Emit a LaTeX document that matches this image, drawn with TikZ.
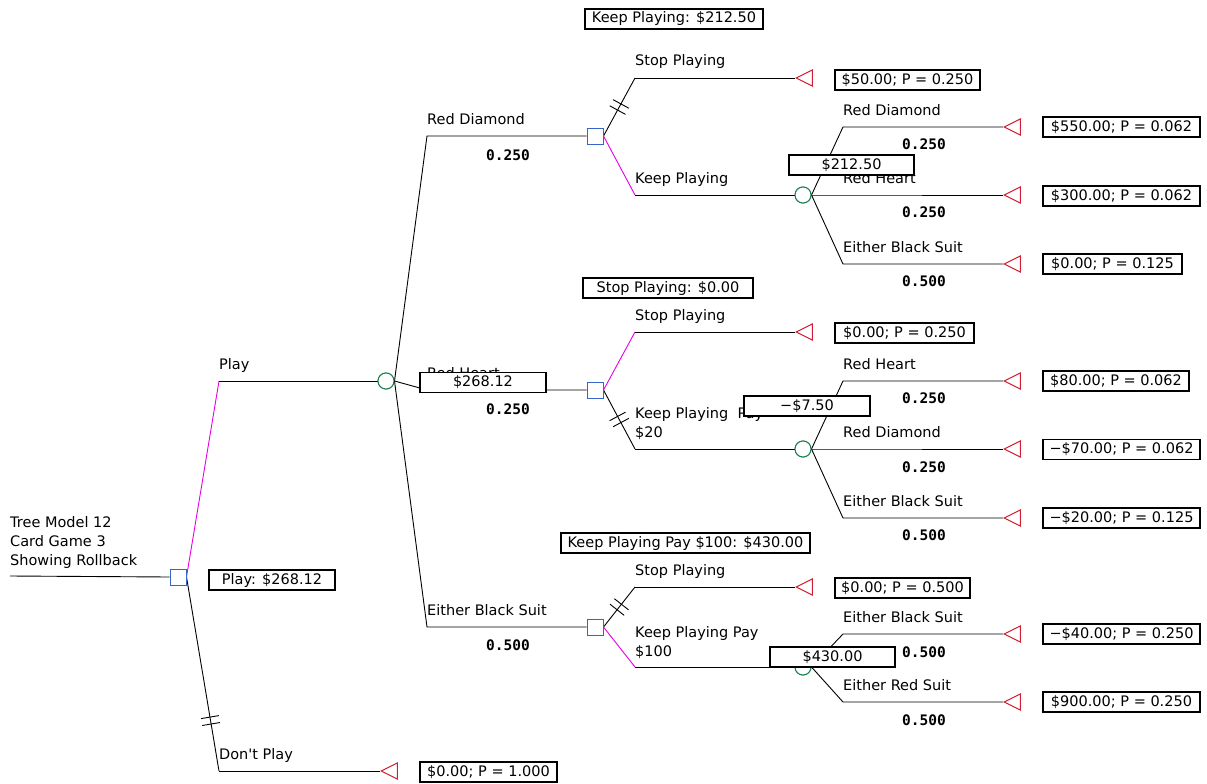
\documentclass[tikz,border=0pt]{standalone}
\usepackage{fontspec}
\setmainfont{DejaVu Sans}[Ligatures=TeXOff]
\newfontfamily\probfont{DejaVu Sans Mono}
\usetikzlibrary{shapes.geometric,decorations.markings}
\definecolor{decblue}{RGB}{55,100,200}
\definecolor{chgreen}{RGB}{30,130,80}
\definecolor{termred}{RGB}{210,30,50}
\definecolor{optmag}{RGB}{230,0,230}
\tikzset{
  dec/.style={rectangle,draw=decblue,fill=white,line width=1pt,minimum size=16pt,inner sep=0pt},
  chn/.style={circle,draw=chgreen,fill=white,line width=1pt,minimum size=16pt,inner sep=0pt},
  term/.style={isosceles triangle,isosceles triangle stretches,shape border rotate=180,draw=termred,line width=1pt,minimum width=16pt,minimum height=16pt,inner sep=0pt,anchor=apex},
  br/.style={line width=0.9pt,black},
  opt/.style={line width=0.9pt,optmag},
  lbl/.style={anchor=base west,inner sep=0pt,font=\fontsize{14.5}{19}\selectfont,align=left},
  prob/.style={anchor=base,inner sep=0pt,font=\probfont\bfseries\fontsize{14.5}{17}\selectfont},
  valbox/.style={draw=black,fill=white,line width=1.1pt,inner sep=0pt,minimum height=20pt,font=\fontsize{14.5}{17}\selectfont},
  dblhash/.style={postaction={decorate,decoration={markings,mark=at position #1 with {\draw[black,line width=0.9pt] (-3.5pt,-9pt)--(-3.5pt,9pt) (3.5pt,-9pt)--(3.5pt,9pt);}}}}
}
\begin{document}
\begin{tikzpicture}[x=1pt,y=-1pt]
\useasboundingbox (0,0) rectangle (1207,784);
% nodes
\node[dec] (d0) at (178,577) {};
\node[chn] (c1) at (386,381) {};
\node[dec] (dA) at (595,136) {};
\node[dec] (dB) at (595,390) {};
\node[dec] (dC) at (595,627) {};
\node[chn] (cA) at (803,195) {};
\node[chn] (cB) at (803,449) {};
\node[chn] (cC) at (803,667) {};
\node[term] (t0) at (380,771) {};
\node[term] (tA0) at (795,78) {};
\node[term] (tB0) at (795,332) {};
\node[term] (tC0) at (795,587) {};
\node[term] (tA1) at (1003,127) {};
\node[term] (tA2) at (1003,195) {};
\node[term] (tA3) at (1003,264) {};
\node[term] (tB1) at (1003,381) {};
\node[term] (tB2) at (1003,449) {};
\node[term] (tB3) at (1003,518) {};
\node[term] (tC1) at (1003,634) {};
\node[term] (tC2) at (1003,702) {};
% corners
\coordinate (root) at (10,576);
\coordinate (kPlay) at (219,381);
\coordinate (kDont) at (219,771);
\coordinate (k1) at (427,136);
\coordinate (k2) at (427,390);
\coordinate (k3) at (427,627);
\coordinate (kA0) at (635,78);
\coordinate (kA1) at (635,195);
\coordinate (kB0) at (635,332);
\coordinate (kB1) at (635,449);
\coordinate (kC0) at (635,587);
\coordinate (kC1) at (635,667);
\coordinate (mA1) at (843,127);
\coordinate (mA2) at (843,195);
\coordinate (mA3) at (843,264);
\coordinate (mB1) at (843,381);
\coordinate (mB2) at (843,449);
\coordinate (mB3) at (843,518);
\coordinate (mC1) at (843,634);
\coordinate (mC2) at (843,702);
% connectors
\draw[br] (root) -- (d0.west);
\draw[opt] (d0.east) -- (kPlay);
\draw[br] (kPlay) -- (c1.west);
\draw[br,dblhash=0.74] (d0.east) -- (kDont);
\draw[br] (kDont) -- (t0.apex);
\draw[br] (c1.east) -- (k1) -- (dA.west);
\draw[br] (c1.east) -- (k2) -- (dB.west);
\draw[br] (c1.east) -- (k3) -- (dC.west);
\draw[br,dblhash=0.5] (dA.east) -- (kA0);
\draw[br] (kA0) -- (tA0.apex);
\draw[opt] (dA.east) -- (kA1);
\draw[br] (kA1) -- (cA.west);
\draw[opt] (dB.east) -- (kB0);
\draw[br] (kB0) -- (tB0.apex);
\draw[br,dblhash=0.5] (dB.east) -- (kB1);
\draw[br] (kB1) -- (cB.west);
\draw[br,dblhash=0.5] (dC.east) -- (kC0);
\draw[br] (kC0) -- (tC0.apex);
\draw[opt] (dC.east) -- (kC1);
\draw[br] (kC1) -- (cC.west);
\draw[br] (cA.east) -- (mA1) -- (tA1.apex);
\draw[br] (cA.east) -- (mA2) -- (tA2.apex);
\draw[br] (cA.east) -- (mA3) -- (tA3.apex);
\draw[br] (cB.east) -- (mB1) -- (tB1.apex);
\draw[br] (cB.east) -- (mB2) -- (tB2.apex);
\draw[br] (cB.east) -- (mB3) -- (tB3.apex);
\draw[br] (cC.east) -- (mC1) -- (tC1.apex);
\draw[br] (cC.east) -- (mC2) -- (tC2.apex);
% redraw nodes on top of lines
\foreach \n in {d0,dA,dB,dC} {\node[dec] at (\n) {};}
\foreach \n in {c1,cA,cB,cC} {\node[chn] at (\n) {};}
% labels
\node[lbl] (title) at (10,565) {Tree Model 12\\Card Game 3\\Showing Rollback};
\node[lbl] (lPlay) at (219,369) {Play};
\node[lbl] (lDont) at (219,759) {Don't Play};
\node[lbl] (l1) at (427,124) {Red Diamond};
\node[lbl] (l2) at (427,378) {Red Heart};
\node[lbl] (l3) at (427,615) {Either Black Suit};
\node[prob] (p1) at (508,160) {0.250};
\node[prob] (p2) at (508,414) {0.250};
\node[prob] (p3) at (508,650) {0.500};
\node[lbl] (lA0) at (635,66) {Stop Playing};
\node[lbl] (lA1) at (635,183) {Keep Playing};
\node[lbl] (lB0) at (635,320) {Stop Playing};
\node[lbl] (lB1) at (635,437) {Keep Playing\ \ Pay\\\$20};
\node[lbl] (lC0) at (635,575) {Stop Playing};
\node[lbl] (lC1) at (635,656) {Keep Playing Pay\\\$100};
\node[lbl] (lmA1) at (843,115) {Red Diamond};
\node[lbl] (lmA2) at (843,183) {Red Heart};
\node[lbl] (lmA3) at (843,252) {Either Black Suit};
\node[lbl] (lmB1) at (843,369) {Red Heart};
\node[lbl] (lmB2) at (843,437) {Red Diamond};
\node[lbl] (lmB3) at (843,506) {Either Black Suit};
\node[lbl] (lmC1) at (843,622) {Either Black Suit};
\node[lbl] (lmC2) at (843,690) {Either Red Suit};
\node[prob] (pA1) at (924,149) {0.250};
\node[prob] (pA2) at (924,217) {0.250};
\node[prob] (pA3) at (924,286) {0.500};
\node[prob] (pB1) at (924,403) {0.250};
\node[prob] (pB2) at (924,472) {0.250};
\node[prob] (pB3) at (924,540) {0.500};
\node[prob] (pC1) at (924,657) {0.500};
\node[prob] (pC2) at (924,725) {0.500};
% value boxes
\node[valbox,minimum width=126pt] (vPlay) at (272,580) {Play: \$268.12};
\node[valbox,minimum width=137pt] (v0) at (488.5,772) {\$0.00; P = 1.000};
\node[valbox,minimum width=178pt] (vA) at (674,19) {Keep Playing: \$212.50};
\node[valbox,minimum width=170pt] (vB) at (668,288) {Stop Playing: \$0.00};
\node[valbox,minimum width=249pt] (vC) at (685.5,543) {Keep Playing Pay \$100: \$430.00};
\node[valbox,minimum width=126pt] (vc1) at (483,382.5) {\$268.12};
\node[valbox,minimum width=125pt] (vcA) at (851.5,165) {\$212.50};
\node[valbox,minimum width=126pt] (vcB) at (807,406) {−\$7.50};
\node[valbox,minimum width=125pt] (vcC) at (832.5,657) {\$430.00};
\node[valbox,minimum width=145pt] (vA0) at (907.5,80) {\$50.00; P = 0.250};
\node[valbox,minimum width=139pt] (vB0) at (904.5,333) {\$0.00; P = 0.250};
\node[valbox,minimum width=135pt] (vC0) at (902.5,588) {\$0.00; P = 0.500};
\node[valbox,minimum width=157pt] (vA1) at (1121.5,127) {\$550.00; P = 0.062};
\node[valbox,minimum width=157pt] (vA2) at (1121.5,196) {\$300.00; P = 0.062};
\node[valbox,minimum width=139pt] (vA3) at (1112.5,264) {\$0.00; P = 0.125};
\node[valbox,minimum width=146pt] (vB1) at (1116,381) {\$80.00; P = 0.062};
\node[valbox,minimum width=157pt] (vB2) at (1121.5,449.5) {−\$70.00; P = 0.062};
\node[valbox,minimum width=157pt] (vB3) at (1121.5,518) {−\$20.00; P = 0.125};
\node[valbox,minimum width=157pt] (vC1) at (1121.5,634) {−\$40.00; P = 0.250};
\node[valbox,minimum width=157pt] (vC2) at (1121.5,702) {\$900.00; P = 0.250};
\end{tikzpicture}
\end{document}
